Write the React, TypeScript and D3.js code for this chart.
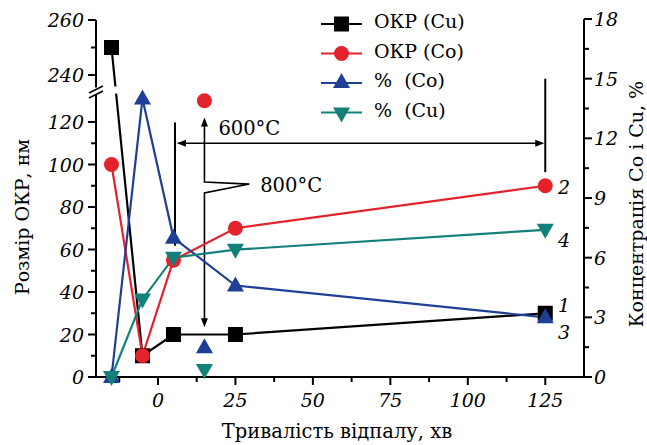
import React from 'react';
import * as d3 from 'd3';

// ---- data ----
const times = [-15, -5, 5, 25, 125];
const sizeCu = [250, 10, 20, 20, 30];
const sizeCo = [100, 10, 55, 70, 90];
const pctCo = [0, 14, 7.0, 4.6, 3.0];
const pctCu = [0, 3.9, 6.0, 6.4, 7.4];
// isolated 800°C points
const t800 = [15];
const sizeCo800 = [130];
const pctCo800 = [1.5];
const pctCu800 = [0.35];

const xMajor = [0, 25, 50, 75, 100, 125];
const xMinor = [-12.5, 12.5, 37.5, 62.5, 87.5, 112.5];
const yLowMajor = [0, 20, 40, 60, 80, 100, 120];
const yLowMinor = [10, 30, 50, 70, 90, 110];
const yHighMajor = [240, 260];
const yHighMinor = [250];
const yRMajor = [0, 3, 6, 9, 12, 15, 18];
const yRMinor = [1.5, 4.5, 7.5, 10.5, 13.5, 16.5];

const legendLabels = ['ОКР (Cu)', 'ОКР (Co)', '%  (Co)', '%  (Cu)'];
const curveNumbers = ['1', '2', '3', '4'];

const BLACK = '#000000';
const RED = '#e3222b';
const BLUE = '#1f3f96';
const TEAL = '#13807a';

const FONT = '"DejaVu Serif", serif';

export default function App() {
  const x = d3.scaleLinear().domain([-20, 137.5]).range([96, 584]);
  const yLow = d3.scaleLinear().domain([0, 120]).range([377, 122]);
  const yHigh = d3.scaleLinear().domain([240, 260]).range([75, 20]);
  const yL = (v: number) => (v > 200 ? yHigh(v) : yLow(v));
  const yR = d3.scaleLinear().domain([0, 18]).range([377, 19]);

  const x0 = x(-20);
  const x1 = x(137.5);
  const yBase = yR(0);

  const lineL = d3.line<number>().x((_, i) => x(times[i])).y((d) => yL(d));
  const lineR = d3.line<number>().x((_, i) => x(times[i])).y((d) => yR(d));

  const sq = (cx: number, cy: number, key: string) => (
    <rect key={key} x={cx - 7.5} y={cy - 7.5} width={15} height={15} fill={BLACK} />
  );
  const circ = (cx: number, cy: number, key: string) => (
    <circle key={key} cx={cx} cy={cy} r={7.5} fill={RED} />
  );
  const triUp = (cx: number, cy: number, key: string, c = BLUE) => (
    <path key={key} d={`M${cx},${cy - 9}L${cx + 8.5},${cy + 6}L${cx - 8.5},${cy + 6}Z`} fill={c} />
  );
  const triDown = (cx: number, cy: number, key: string, c = TEAL) => (
    <path key={key} d={`M${cx},${cy + 9}L${cx + 8.5},${cy - 6}L${cx - 8.5},${cy - 6}Z`} fill={c} />
  );

  const tickFont = { fontFamily: FONT, fontStyle: 'italic', fontSize: 19 } as const;
  const arrowHead = (tx: number, ty: number, dir: 'up' | 'down' | 'left' | 'right', key: string) => {
    const L = 9, W = 3.5;
    let d = '';
    if (dir === 'up') d = `M${tx},${ty}L${tx + W},${ty + L}L${tx - W},${ty + L}Z`;
    if (dir === 'down') d = `M${tx},${ty}L${tx + W},${ty - L}L${tx - W},${ty - L}Z`;
    if (dir === 'left') d = `M${tx},${ty}L${tx + L},${ty - W}L${tx + L},${ty + W}Z`;
    if (dir === 'right') d = `M${tx},${ty}L${tx - L},${ty - W}L${tx - L},${ty + W}Z`;
    return <path key={key} d={d} fill={BLACK} />;
  };

  // annotation geometry (data coords)
  const barX = x(5.5);
  const arrY = yR(11.75);
  const rBarX = x(125);
  const vX = x(t800[0]);
  const zigX = x(29.5);

  const legendX0 = 321;
  const legendX1 = 362;
  const legendYs = [24, 53.5, 83, 112.5];
  const legendColors = [BLACK, RED, BLUE, TEAL];

  const seriesEnds = [yL(sizeCu[4]), yL(sizeCo[4]), yR(pctCo[4]), yR(pctCu[4])];
  const numOffsets = [-1, 8, 22, 17];

  return (
    <svg width={647} height={445} style={{ position: 'fixed', left: 0, top: 0, background: '#fff' }}>
      <rect width={647} height={445} fill="#fff" />
      {/* axes */}
      <g stroke={BLACK} strokeWidth={2} fill="none">
        <line x1={x0} y1={yBase} x2={x1} y2={yBase} />
        <line x1={x1} y1={yR(18)} x2={x1} y2={yBase + 1} />
        <line x1={x0} y1={yBase + 1} x2={x0} y2={yLow(133)} />
        <line x1={x0} y1={yHigh(260)} x2={x0} y2={yHigh(235.5)} />
        {/* break marks */}
        <line x1={x0 - 7} y1={93} x2={x0 + 7} y2={86} strokeWidth={1.8} />
        <line x1={x0 - 7} y1={98} x2={x0 + 7} y2={91} strokeWidth={1.8} />
        {xMajor.map((v) => <line key={'xM' + v} x1={x(v)} y1={yBase} x2={x(v)} y2={yBase + 8} />)}
        {xMinor.map((v) => <line key={'xm' + v} x1={x(v)} y1={yBase} x2={x(v)} y2={yBase + 5} />)}
        {yLowMajor.map((v) => <line key={'lM' + v} x1={x0} y1={yLow(v)} x2={x0 - 8} y2={yLow(v)} />)}
        {yLowMinor.map((v) => <line key={'lm' + v} x1={x0} y1={yLow(v)} x2={x0 - 5} y2={yLow(v)} />)}
        {yHighMajor.map((v) => <line key={'hM' + v} x1={x0} y1={yHigh(v)} x2={x0 - 8} y2={yHigh(v)} />)}
        {yHighMinor.map((v) => <line key={'hm' + v} x1={x0} y1={yHigh(v)} x2={x0 - 5} y2={yHigh(v)} />)}
        {yRMajor.map((v) => <line key={'rM' + v} x1={x1} y1={yR(v)} x2={x1 + 8} y2={yR(v)} />)}
        {yRMinor.map((v) => <line key={'rm' + v} x1={x1} y1={yR(v)} x2={x1 + 5} y2={yR(v)} />)}
      </g>
      {/* tick labels */}
      <g {...tickFont} fill={BLACK}>
        {xMajor.map((v) => (
          <text key={'xl' + v} x={x(v)} y={407} textAnchor="middle">{v}</text>
        ))}
        {yLowMajor.map((v) => (
          <text key={'ll' + v} x={84} y={yLow(v) + 7} textAnchor="end">{v}</text>
        ))}
        {yHighMajor.map((v) => (
          <text key={'hl' + v} x={84} y={yHigh(v) + 7} textAnchor="end">{v}</text>
        ))}
        {yRMajor.map((v) => (
          <text key={'rl' + v} x={594} y={yR(v) + 7} textAnchor="start">{v}</text>
        ))}
      </g>
      {/* axis titles */}
      <text x={337} y={438} textAnchor="middle" fontFamily={FONT} fontSize={19.5}>Тривалість відпалу, хв</text>
      <text transform={`translate(28.5,217) rotate(-90)`} textAnchor="middle" fontFamily={FONT} fontSize={19}>Розмір ОКР, нм</text>
      <text transform={`translate(643,204) rotate(-90)`} textAnchor="middle" fontFamily={FONT} fontSize={19}>Концентрація Co і Cu, %</text>

      {/* annotations */}
      <g stroke={BLACK} strokeWidth={1.6} fill="none">
        <line x1={barX} y1={yR(12.8)} x2={barX} y2={yR(6.6)} strokeWidth={2} />
        <line x1={barX + 3} y1={arrY} x2={rBarX - 3} y2={arrY} />
        <line x1={rBarX} y1={yR(15)} x2={rBarX} y2={yR(10.3)} strokeWidth={2} />
        <path d={`M${vX},${yR(12.7)}L${vX},${yR(9.8)}L${zigX},${yR(9.7)}L${vX},${yR(9.25)}L${vX},${yR(2.8)}`} />
      </g>
      {arrowHead(barX + 2, arrY, 'left', 'a1')}
      {arrowHead(rBarX - 1, arrY, 'right', 'a2')}
      {arrowHead(vX, yR(13.05), 'up', 'a3')}
      {arrowHead(vX, yR(2.5), 'down', 'a4')}
      <text x={x(19.5)} y={135} fontFamily={FONT} fontSize={19.5}>600°C</text>
      <text x={x(33)} y={192} fontFamily={FONT} fontSize={19.5}>800°C</text>

      {/* series lines */}
      <path d={lineL(sizeCu) || ''} stroke={BLACK} strokeWidth={2.2} fill="none" />
      <rect x={103} y={yHigh(235.8)} width={22} height={7} fill="#fff" />
      <path d={lineL(sizeCo) || ''} stroke={RED} strokeWidth={2.2} fill="none" />
      <path d={lineR(pctCo) || ''} stroke={BLUE} strokeWidth={2.2} fill="none" />
      <path d={lineR(pctCu) || ''} stroke={TEAL} strokeWidth={2.2} fill="none" />

      {/* markers */}
      {times.map((t, i) => sq(x(t), yL(sizeCu[i]), 'sq' + i))}
      {times.map((t, i) => circ(x(t), yL(sizeCo[i]), 'c' + i))}
      {t800.map((t, i) => circ(x(t), yLow(sizeCo800[i]), 'c8' + i))}
      {times.map((t, i) => triUp(x(t), yR(pctCo[i]), 'tu' + i))}
      {t800.map((t, i) => triUp(x(t), yR(pctCo800[i]), 'tu8' + i))}
      {times.map((t, i) => triDown(x(t), yR(pctCu[i]), 'td' + i))}
      {t800.map((t, i) => triDown(x(t), yR(pctCu800[i]), 'td8' + i))}

      {/* curve numbers */}
      {curveNumbers.map((n, i) => (
        <text key={'n' + n} x={558} y={seriesEnds[i] + numOffsets[i]} {...tickFont}>{n}</text>
      ))}

      {/* legend */}
      {legendLabels.map((lab, i) => {
        const ly = legendYs[i];
        const cx = (legendX0 + legendX1) / 2;
        return (
          <g key={'lg' + i}>
            <line x1={legendX0} y1={ly} x2={legendX1} y2={ly} stroke={legendColors[i]} strokeWidth={2.2} />
            {i === 0 && sq(cx, ly, 'lsq')}
            {i === 1 && circ(cx, ly, 'lc')}
            {i === 2 && triUp(cx, ly - 1, 'ltu')}
            {i === 3 && triDown(cx, ly + 1, 'ltd')}
            <text x={374} y={ly + 4} fontFamily={FONT} fontSize={19} style={{ whiteSpace: 'pre' }}>{lab}</text>
          </g>
        );
      })}
    </svg>
  );
}
